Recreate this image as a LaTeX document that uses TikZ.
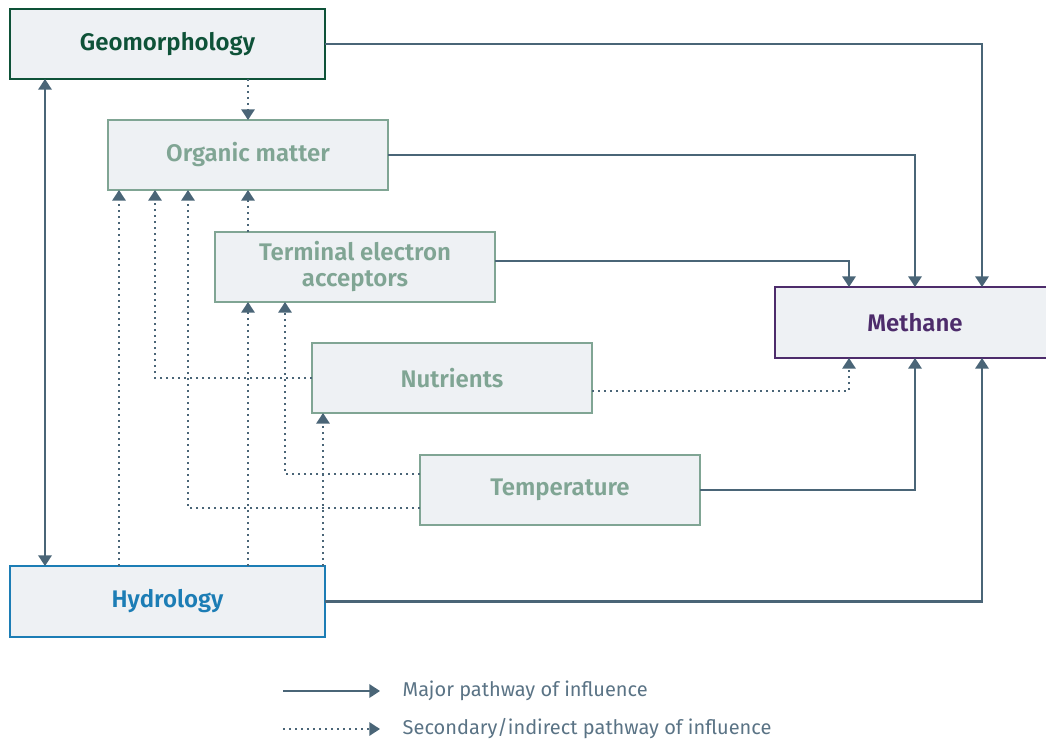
\documentclass[tikz,border=0pt]{standalone}
\usepackage{fontspec}
\setmainfont{Fira Sans}[BoldFont={Fira Sans SemiBold}]
\usetikzlibrary{arrows.meta,positioning,calc}

\definecolor{arrowc}{HTML}{4A6577}
\definecolor{boxfill}{HTML}{EEF1F4}
\definecolor{mutedc}{HTML}{80A594}
\definecolor{geoc}{HTML}{0E5238}
\definecolor{methc}{HTML}{4D2C6B}
\definecolor{hydc}{HTML}{1C7DB5}
\definecolor{keyc}{HTML}{5A7385}

\tikzset{
	box/.style={draw=mutedc, fill=boxfill, line width=1.1pt, inner sep=0pt, outer sep=0pt,
		minimum width=210pt, minimum height=52.5pt, align=center, text=mutedc,
		font=\fontsize{18}{22}\selectfont\bfseries},
	widebox/.style={box, minimum width=236.25pt},
	major/.style={draw=arrowc, line width=1.8pt, -{Triangle[length=8pt,width=10pt]}},
	minor/.style={draw=arrowc, line width=1.5pt, dash pattern=on 1.3pt off 3.2pt,
		-{Triangle[length=8pt,width=10pt]}},
	keytext/.style={anchor=west, text=keyc, font=\fontsize{15}{18}\selectfont}
}

\begin{document}
\begin{tikzpicture}[x=0.75pt, y=-0.75pt]
	\useasboundingbox (0,0) rectangle (1046,742);
	
	% boxes
	\node[widebox, draw=geoc, text=geoc] (geo) at (167.5,44) {Geomorphology};
	\node[box] (org) at (248,155) {Organic matter};
	\node[box, font=\fontsize{18}{19.5}\selectfont\bfseries] (tea) at (355,267) {Terminal electron\\acceptors};
	\node[box] (nut) at (452,378) {Nutrients};
	\node[box] (temp) at (560,490) {Temperature};
	\node[box, draw=methc, text=methc, minimum height=53.25pt] (meth) at (915,322.5) {Methane};
	\node[widebox, draw=hydc, text=hydc, minimum height=53.25pt] (hyd) at (167.5,601.5) {Hydrology};
	
	% major pathways
	\draw[major] (geo.east) -| ($(meth.north)+(67,0)$);
	\draw[major] (org.east) -| (meth.north);
	\draw[major] ($(tea.east)+(0,-6)$) -| ($(meth.north)+(-66,0)$);
	\draw[major] (temp.east) -| (meth.south);
	\draw[major] (hyd.east) -| ($(meth.south)+(67,0)$);
	\draw[major, {Triangle[length=8pt,width=10pt]}-{Triangle[length=8pt,width=10pt]}]
		($(geo.south west)+(35,0)$) -- ($(hyd.north west)+(35,0)$);
	
	% secondary pathways
	\draw[minor] (org.north |- geo.south) -- (org.north);
	\draw[minor] (org.south |- tea.north) -- (org.south);
	\draw[minor] ($(nut.east)+(0,13)$) -| ($(meth.south)+(-66,0)$);
	\draw[minor] (nut.west) -| ($(org.south west)+(47,0)$);
	\draw[minor] ($(temp.west)+(0,18)$) -| ($(org.south west)+(80,0)$);
	\draw[minor] ($(temp.west)+(0,-16)$) -| ($(tea.south west)+(70,0)$);
	\draw[minor] ($(hyd.north west)+(109,0)$) -- ($(org.south west)+(11,0)$);
	\draw[minor] ($(hyd.north west)+(238,0)$) -- ($(tea.south west)+(33,0)$);
	\draw[minor] ($(hyd.north west)+(313,0)$) -- ($(nut.south west)+(11,0)$);
	
	% key
	\node[keytext] (key1) at (398,691) {Major pathway of influence};
	\node[keytext] (key2) at (398,729) {Secondary/indirect pathway of influence};
	\coordinate (k1) at (283,691);
	\coordinate (k2) at (283,729);
	\draw[major] (k1) -- ($(key1.west)+(-18,0)$);
	\draw[minor] (k2) -- ($(key2.west)+(-18,0)$);
\end{tikzpicture}
\end{document}
